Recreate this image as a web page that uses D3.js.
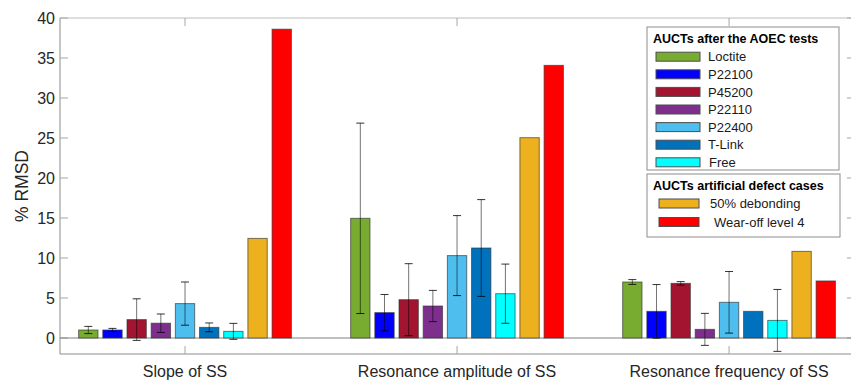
<!DOCTYPE html>
<html>
<head>
<meta charset="utf-8">
<script src="https://cdn.jsdelivr.net/npm/d3@7"></script>
<style>
  body { margin: 0; background: #fff; }
  svg { font-family: "Liberation Sans", Arial, sans-serif; }
</style>
</head>
<body>
<svg id="chart" width="851" height="381"></svg>
<script>
// categories on the x axis
const categories = ["Slope of SS", "Resonance amplitude of SS", "Resonance frequency of SS"];

// series names (legend order) and their colours
const series = ["Loctite", "P22100", "P45200", "P22110", "P22400", "T-Link", "Free", "50% debonding", "Wear-off level 4"];
const colors = ["#77AC30", "#0000FF", "#A2142F", "#7E2F8E", "#4DBEEE", "#0072BD", "#00FFFF", "#EDB120", "#FF0000"];

// mean % RMSD per series, one value per category
const values = [
  [1.0, 14.96, 7.0],
  [1.0, 3.17, 3.33],
  [2.3, 4.79, 6.83],
  [1.85, 4.0, 1.08],
  [4.3, 10.3, 4.46],
  [1.33, 11.25, 3.33],
  [0.83, 5.54, 2.2],
  [12.45, 25.04, 10.83],
  [38.6, 34.08, 7.13]
];

// half-length of error bars (null = none)
const errors = [
  [0.45, 11.9, 0.3],
  [0.2, 2.27, 3.35],
  [2.6, 4.5, 0.22],
  [1.15, 1.95, 2.0],
  [2.7, 5.0, 3.85],
  [0.55, 6.05, null],
  [1.0, 3.7, 3.87],
  [null, null, null],
  [null, null, null]
];

const yTicks = [0, 5, 10, 15, 20, 25, 30, 35, 40];

const legendGroup1 = { title: "AUCTs after the AOEC tests", items: [0, 1, 2, 3, 4, 5, 6] };
const legendGroup2 = { title: "AUCTs artificial defect cases", items: [7, 8] };

const svg = d3.select("#chart");
const textColor = "#262626";

const x = d3.scaleLinear().domain([0.5404, 3.463]).range([60, 855]);
const y = d3.scaleLinear().domain([-2, 40]).range([354, 18]);

// MATLAB-style grouped bars: group width 0.8, bar width 0.8 of slot
const slot = 0.8 / series.length;
const barW = slot * 0.8;
const offset = i => (i - (series.length - 1) / 2) * slot;

// axes frame
svg.append("line").attr("x1", 60).attr("x2", 855).attr("y1", y(40)).attr("y2", y(40))
  .attr("stroke", "#bdbdbd").attr("stroke-width", 1.2);
svg.append("line").attr("x1", 60).attr("x2", 855).attr("y1", y(-2)).attr("y2", y(-2))
  .attr("stroke", "#8c8c8c").attr("stroke-width", 1);
svg.append("line").attr("x1", 60).attr("x2", 60).attr("y1", y(40)).attr("y2", y(-2))
  .attr("stroke", "#8c8c8c").attr("stroke-width", 1);

// y ticks, left (inward) and right
yTicks.forEach(t => {
  svg.append("line").attr("x1", 60).attr("x2", 68).attr("y1", y(t)).attr("y2", y(t))
    .attr("stroke", "#a6a6a6");
  svg.append("line").attr("x1", 847).attr("x2", 855).attr("y1", y(t)).attr("y2", y(t))
    .attr("stroke", "#a6a6a6");
  svg.append("text").attr("x", 55).attr("y", y(t)).attr("dy", "0.36em")
    .attr("text-anchor", "end").attr("font-size", "16px").attr("fill", textColor)
    .text(t);
});

// x ticks at category centres, top and bottom
categories.forEach((c, i) => {
  const cx = x(i + 1);
  svg.append("line").attr("x1", cx).attr("x2", cx).attr("y1", y(40)).attr("y2", y(40) + 8)
    .attr("stroke", "#a6a6a6");
  svg.append("line").attr("x1", cx).attr("x2", cx).attr("y1", y(-2)).attr("y2", y(-2) - 8)
    .attr("stroke", "#a6a6a6");
  svg.append("text").attr("x", cx).attr("y", 377)
    .attr("text-anchor", "middle").attr("font-size", "16px").attr("fill", textColor)
    .text(c);
});

// zero baseline
svg.append("line").attr("x1", 60).attr("x2", 855).attr("y1", y(0)).attr("y2", y(0))
  .attr("stroke", "#808080").attr("stroke-width", 1);

// y label
svg.append("text").attr("transform", `translate(28,${(y(40) + y(-2)) / 2}) rotate(-90)`)
  .attr("text-anchor", "middle").attr("font-size", "17.5px").attr("fill", textColor)
  .text("% RMSD");

// bars
const bars = svg.append("g");
series.forEach((s, si) => {
  values[si].forEach((v, ci) => {
    const cx = ci + 1 + offset(si);
    bars.append("rect")
      .attr("x", x(cx - barW / 2))
      .attr("width", x(cx + barW / 2) - x(cx - barW / 2))
      .attr("y", y(v))
      .attr("height", y(0) - y(v))
      .attr("fill", colors[si])
      .attr("stroke", "#333")
      .attr("stroke-opacity", 0.65)
      .attr("stroke-width", 1);
  });
});

// error bars
const errG = svg.append("g").attr("stroke", "#000").attr("stroke-opacity", 0.55).attr("stroke-width", 1);
series.forEach((s, si) => {
  errors[si].forEach((e, ci) => {
    if (e == null) return;
    const v = values[si][ci];
    const px = x(ci + 1 + offset(si));
    errG.append("line").attr("x1", px).attr("x2", px).attr("y1", y(v + e)).attr("y2", y(v - e));
    [v + e, v - e].forEach(end => {
      errG.append("line").attr("x1", px - 4).attr("x2", px + 4).attr("y1", y(end)).attr("y2", y(end))
        .attr("stroke-opacity", 0.8);
    });
  });
});

// legends
function drawLegend(group, box, titleY, rowYs, patchX, labelX) {
  svg.append("rect").attr("x", box.x).attr("y", box.y).attr("width", box.w).attr("height", box.h)
    .attr("fill", "#fff").attr("stroke", "#8c8c8c").attr("stroke-width", 1);
  svg.append("text").attr("x", box.x + 6).attr("y", titleY)
    .attr("font-size", "12.5px").attr("font-weight", "bold").attr("fill", "#000")
    .text(group.title);
  group.items.forEach((si, k) => {
    const cy = rowYs[k];
    svg.append("rect").attr("x", patchX[0]).attr("y", cy - 4.5)
      .attr("width", patchX[1] - patchX[0]).attr("height", 9)
      .attr("fill", colors[si]).attr("stroke", "#4d4d4d").attr("stroke-width", 1);
    svg.append("text").attr("x", labelX[k] || labelX[0]).attr("y", cy).attr("dy", "0.36em")
      .attr("font-size", "13px").attr("fill", "#1a1a1a")
      .text(series[si]);
  });
}

drawLegend(legendGroup1, { x: 647, y: 27, w: 192, h: 143 }, 43,
  [56.7, 74.3, 91.9, 109.5, 127.1, 144.7, 162.3], [656, 700], [708, 708, 708, 708, 708, 708, 709]);
drawLegend(legendGroup2, { x: 647, y: 174, w: 193, h: 63 }, 189.5,
  [203.5, 222], [659, 699], [710, 714]);
</script>
</body>
</html>
